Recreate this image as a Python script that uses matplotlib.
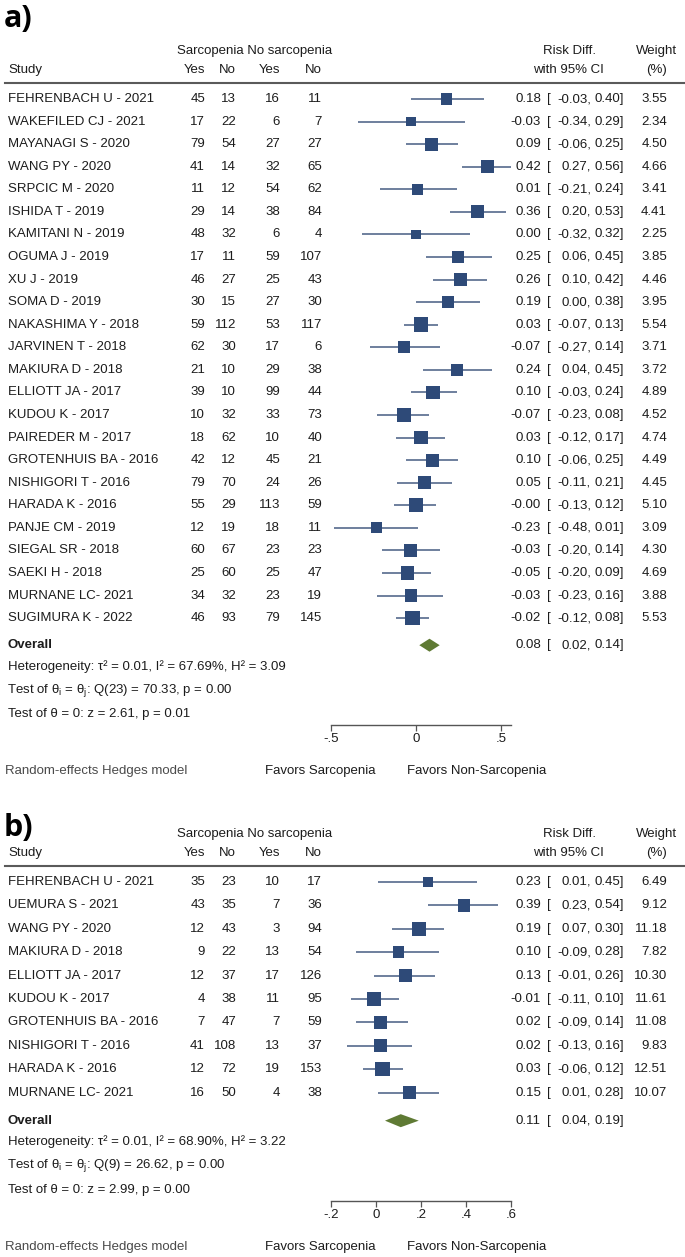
import numpy as np
import matplotlib
matplotlib.use("Agg")
import matplotlib.pyplot as plt
from matplotlib import transforms as mtransforms
from matplotlib.patches import Polygon

plt.rcParams['font.family'] = ['Liberation Sans', 'DejaVu Sans']
plt.rcParams['mathtext.fontset'] = 'custom'
plt.rcParams['mathtext.rm'] = 'Liberation Sans'

# ---- panel a data ----
studies_a = ["FEHRENBACH U - 2021", "WAKEFILED CJ - 2021", "MAYANAGI S - 2020", "WANG PY - 2020",
             "SRPCIC M - 2020", "ISHIDA T - 2019", "KAMITANI N - 2019", "OGUMA J - 2019",
             "XU J - 2019", "SOMA D - 2019", "NAKASHIMA Y - 2018", "JARVINEN T - 2018",
             "MAKIURA D - 2018", "ELLIOTT JA - 2017", "KUDOU K - 2017", "PAIREDER M - 2017",
             "GROTENHUIS BA - 2016", "NISHIGORI T - 2016", "HARADA K - 2016", "PANJE CM - 2019",
             "SIEGAL SR - 2018", "SAEKI H - 2018", "MURNANE LC- 2021", "SUGIMURA K - 2022"]
sarc_yes_a = [45, 17, 79, 41, 11, 29, 48, 17, 46, 30, 59, 62, 21, 39, 10, 18, 42, 79, 55, 12, 60, 25, 34, 46]
sarc_no_a = [13, 22, 54, 14, 12, 14, 32, 11, 27, 15, 112, 30, 10, 10, 32, 62, 12, 70, 29, 19, 67, 60, 32, 93]
nosarc_yes_a = [16, 6, 27, 32, 54, 38, 6, 59, 25, 27, 53, 17, 29, 99, 33, 10, 45, 24, 113, 18, 23, 25, 23, 79]
nosarc_no_a = [11, 7, 27, 65, 62, 84, 4, 107, 43, 30, 117, 6, 38, 44, 73, 40, 21, 26, 59, 11, 23, 47, 19, 145]
rd_a = [0.18, -0.03, 0.09, 0.42, 0.01, 0.36, 0.00, 0.25, 0.26, 0.19, 0.03, -0.07,
        0.24, 0.10, -0.07, 0.03, 0.10, 0.05, -0.0, -0.23, -0.03, -0.05, -0.03, -0.02]
lo_a = [-0.03, -0.34, -0.06, 0.27, -0.21, 0.20, -0.32, 0.06, 0.10, 0.00, -0.07, -0.27,
        0.04, -0.03, -0.23, -0.12, -0.06, -0.11, -0.13, -0.48, -0.20, -0.20, -0.23, -0.12]
hi_a = [0.40, 0.29, 0.25, 0.56, 0.24, 0.53, 0.32, 0.45, 0.42, 0.38, 0.13, 0.14,
        0.45, 0.24, 0.08, 0.17, 0.25, 0.21, 0.12, 0.01, 0.14, 0.09, 0.16, 0.08]
weight_a = [3.55, 2.34, 4.50, 4.66, 3.41, 4.41, 2.25, 3.85, 4.46, 3.95, 5.54, 3.71,
            3.72, 4.89, 4.52, 4.74, 4.49, 4.45, 5.10, 3.09, 4.30, 4.69, 3.88, 5.53]
overall_a = (0.08, 0.02, 0.14)
stats_a = ["Heterogeneity: τ² = 0.01, I² = 67.69%, H² = 3.09",
           r"Test of θ$_\mathregular{i}$ = θ$_\mathregular{j}$: Q(23) = 70.33, p = 0.00",
           "Test of θ = 0: z = 2.61, p = 0.01"]
ticks_a = [-0.5, 0, 0.5]
ticklabels_a = ["-.5", "0", ".5"]

# ---- panel b data ----
studies_b = ["FEHRENBACH U - 2021", "UEMURA S - 2021", "WANG PY - 2020", "MAKIURA D - 2018",
             "ELLIOTT JA - 2017", "KUDOU K - 2017", "GROTENHUIS BA - 2016", "NISHIGORI T - 2016",
             "HARADA K - 2016", "MURNANE LC- 2021"]
sarc_yes_b = [35, 43, 12, 9, 12, 4, 7, 41, 12, 16]
sarc_no_b = [23, 35, 43, 22, 37, 38, 47, 108, 72, 50]
nosarc_yes_b = [10, 7, 3, 13, 17, 11, 7, 13, 19, 4]
nosarc_no_b = [17, 36, 94, 54, 126, 95, 59, 37, 153, 38]
rd_b = [0.23, 0.39, 0.19, 0.10, 0.13, -0.01, 0.02, 0.02, 0.03, 0.15]
lo_b = [0.01, 0.23, 0.07, -0.09, -0.01, -0.11, -0.09, -0.13, -0.06, 0.01]
hi_b = [0.45, 0.54, 0.30, 0.28, 0.26, 0.10, 0.14, 0.16, 0.12, 0.28]
weight_b = [6.49, 9.12, 11.18, 7.82, 10.30, 11.61, 11.08, 9.83, 12.51, 10.07]
overall_b = (0.11, 0.04, 0.19)
stats_b = ["Heterogeneity: τ² = 0.01, I² = 68.90%, H² = 3.22",
           r"Test of θ$_\mathregular{i}$ = θ$_\mathregular{j}$: Q(9) = 26.62, p = 0.00",
           "Test of θ = 0: z = 2.99, p = 0.00"]
ticks_b = [-0.2, 0, 0.2, 0.4, 0.6]
ticklabels_b = ["-.2", "0", ".2", ".4", ".6"]

W, H = 685, 1257
fig = plt.figure(figsize=(W / 100, H / 100), dpi=100)
# pixel coordinates, origin top-left
px = mtransforms.Affine2D().scale(1 / W, -1 / H).translate(0, 1) + fig.transFigure

TXT = "#1c1c1c"
SQ = "#2e4a78"
CI = "#55698c"
DIA = "#5f7a34"
FS = 9.5


def txt(x, y, s, ha="left", **kw):
    kw.setdefault("color", TXT)
    kw.setdefault("fontsize", FS)
    fig.text(x, y, s, ha=ha, va="center", transform=px, **kw)


def panel(label, top, row0, dy, studies, cols, rd, lo, hi, w, overall, stats,
          xlim, ticks, ticklabels, axis_y):
    n = len(studies)
    rows = row0 + dy * np.arange(n)
    y_over = rows[-1] + dy * 1.2

    txt(4, top, label, fontsize=22, fontweight="bold", color="black",
        family=["Open Sans", "DejaVu Sans"])
    # headers
    hy1, hy2 = row0 - 48, row0 - 29
    txt(177, hy1, "Sarcopenia No sarcopenia")
    txt(8, hy2, "Study")
    col_x = [205, 236, 280, 322]
    for cx, h in zip(col_x, ["Yes", "No", "Yes", "No"]):
        txt(cx, hy2, h, ha="right")
    txt(570, hy1, "Risk Diff.", ha="center")
    txt(568, hy2, "with 95% CI", ha="center")
    txt(657, hy1, "Weight", ha="center")
    txt(657, hy2, "(%)", ha="center")
    fig.add_artist(plt.Line2D([5, 685], [row0 - 16, row0 - 16], transform=px,
                              color="#5a5a5a", lw=1.5))

    for i in range(n):
        y = rows[i]
        txt(8, y, studies[i])
        for cx, c in zip(col_x, cols):
            txt(cx, y, str(c[i]), ha="right")
        txt(541, y, f"{rd[i]:.2f}", ha="right")
        txt(547, y, "[")
        txt(591, y, f"{lo[i]:.2f},", ha="right")
        txt(624, y, f"{hi[i]:.2f}]", ha="right")
        txt(667, y, f"{w[i]:.2f}", ha="right")

    txt(8, y_over, "Overall", fontweight="bold")
    txt(541, y_over, f"{overall[0]:.2f}", ha="right")
    txt(547, y_over, "[")
    txt(591, y_over, f"{overall[1]:.2f},", ha="right")
    txt(624, y_over, f"{overall[2]:.2f}]", ha="right")
    for k, s in enumerate(stats):
        txt(7 if k == 1 else 8, y_over + 21 + 24 * k, s)

    # forest axes
    ax = fig.add_axes([331 / W, 1 - axis_y / H, 180 / W, (axis_y - (row0 - 16)) / H])
    ax.set_xlim(*xlim)
    ax.set_ylim(axis_y, row0 - 16)
    ax.patch.set_alpha(0)
    for sp in ["top", "left", "right"]:
        ax.spines[sp].set_visible(False)
    ax.spines["bottom"].set_color("#555555")
    ax.spines["bottom"].set_linewidth(1.0)
    ax.set_yticks([])
    ax.set_xticks(ticks)
    ax.set_xticklabels(ticklabels)
    ax.tick_params(axis="x", length=4, width=0.9, color="#555555", labelsize=FS,
                   labelcolor=TXT, pad=2)
    ax.hlines(rows, lo, hi, color=CI, lw=1.2)
    sizes = 110 * np.array(w) / max(w)
    ax.scatter(rd, rows, s=sizes, marker="s", color=SQ, zorder=3, linewidths=0)
    est, l, h = overall
    hh = 6.5
    ax.add_patch(Polygon([[l, y_over], [est, y_over - hh], [h, y_over], [est, y_over + hh]],
                         closed=True, color=DIA, lw=0))

    yb = axis_y + 46
    txt(5, yb, "Random-effects Hedges model", color="#4a4a4a")
    txt(376, yb, "Favors Sarcopenia", ha="right")
    txt(407, yb, "Favors Non-Sarcopenia")


panel("a)", 19, 99, 22.57, studies_a, [sarc_yes_a, sarc_no_a, nosarc_yes_a, nosarc_no_a],
      rd_a, lo_a, hi_a, weight_a, overall_a, stats_a, (-0.5, 0.56), ticks_a, ticklabels_a, 725)
panel("b)", 828, 882, 23.4, studies_b, [sarc_yes_b, sarc_no_b, nosarc_yes_b, nosarc_no_b],
      rd_b, lo_b, hi_b, weight_b, overall_b, stats_b, (-0.2, 0.6), ticks_b, ticklabels_b, 1201)

fig.savefig("out.png", dpi=100, facecolor="white")
